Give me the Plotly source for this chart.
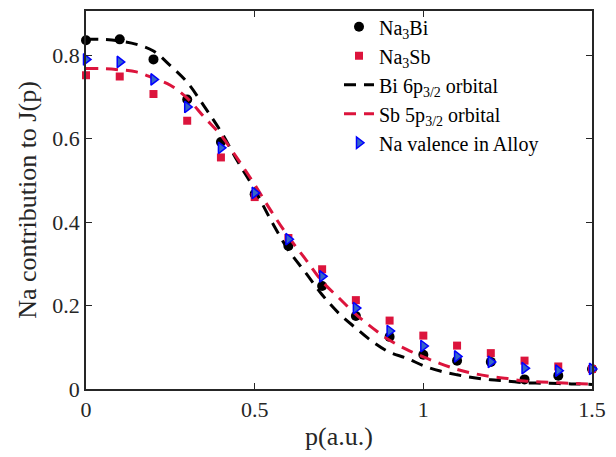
import plotly.graph_objects as go

p_pts = [0.0, 0.1, 0.2, 0.3, 0.4, 0.5, 0.6, 0.7, 0.8, 0.9, 1.0, 1.1, 1.2, 1.3, 1.4, 1.5]
na3bi = [0.836, 0.838, 0.790, 0.694, 0.592, 0.467, 0.343, 0.247, 0.175, 0.125, 0.082, 0.068, 0.065, 0.023, 0.032, 0.048]
na3sb = [0.752, 0.749, 0.707, 0.643, 0.555, 0.460, 0.362, 0.287, 0.213, 0.164, 0.128, 0.104, 0.086, 0.068, 0.054, 0.048]
na_alloy = [0.790, 0.784, 0.742, 0.676, 0.578, 0.470, 0.359, 0.270, 0.194, 0.139, 0.103, 0.078, 0.065, 0.050, 0.044, 0.048]

p_curve = [0.0, 0.05, 0.1, 0.15, 0.2, 0.25, 0.3, 0.35, 0.4, 0.45, 0.5, 0.55, 0.6, 0.65, 0.7, 0.75,
           0.8, 0.85, 0.9, 0.95, 1.0, 1.05, 1.1, 1.15, 1.2, 1.25, 1.3, 1.35, 1.4, 1.45, 1.5]
bi_6p = [0.838, 0.838, 0.834, 0.826, 0.810, 0.775, 0.735, 0.678, 0.617, 0.545, 0.478, 0.402, 0.333,
         0.280, 0.226, 0.181, 0.146, 0.113, 0.088, 0.074, 0.056, 0.043, 0.034, 0.027, 0.022, 0.019,
         0.015, 0.014, 0.013, 0.012, 0.011]
sb_5p = [0.768, 0.768, 0.765, 0.760, 0.745, 0.728, 0.697, 0.652, 0.608, 0.551, 0.490, 0.425, 0.365,
         0.312, 0.258, 0.218, 0.179, 0.146, 0.117, 0.095, 0.077, 0.061, 0.047, 0.037, 0.030, 0.025,
         0.019, 0.017, 0.015, 0.013, 0.012]

FONT = "Liberation Serif"
AX = "#262626"
RED = "#DC143C"

fig = go.Figure()
fig.add_trace(go.Scatter(x=p_pts, y=na3bi, mode="markers", name="Na<sub>3</sub>Bi",
                         marker=dict(symbol="circle", size=10, color="black"), cliponaxis=False))
fig.add_trace(go.Scatter(x=p_pts, y=na3sb, mode="markers", name="Na<sub>3</sub>Sb",
                         marker=dict(symbol="square", size=8, color=RED), cliponaxis=False))
fig.add_trace(go.Scatter(x=p_curve, y=bi_6p, mode="lines", name="Bi 6p<sub>3/2</sub> orbital",
                         line=dict(color="black", width=3, dash="12px,8px", shape="spline")))
fig.add_trace(go.Scatter(x=p_curve, y=sb_5p, mode="lines", name="Sb 5p<sub>3/2</sub> orbital",
                         line=dict(color=RED, width=3, dash="12px,8px", shape="spline")))
fig.add_trace(go.Scatter(x=p_pts, y=na_alloy, mode="markers", name="Na valence in Alloy",
                         marker=dict(symbol="triangle-right", size=10, color="#3566c8",
                                     line=dict(color="blue", width=1.5)), cliponaxis=False))

axis_common = dict(showline=True, linecolor=AX, linewidth=1.5, mirror="ticks", ticks="inside",
                   ticklen=6, tickcolor=AX, tickwidth=1.2, showgrid=False, zeroline=False,
                   tickfont=dict(family=FONT, size=22, color=AX))

fig.update_xaxes(range=[0, 1.5], tickvals=[0, 0.5, 1, 1.5], ticktext=["0", "0.5", "1", "1.5"],
                 title=dict(text="p(a.u.)", font=dict(family=FONT, size=26, color=AX), standoff=6),
                 **axis_common)
fig.update_yaxes(range=[0, 0.906], tickvals=[0, 0.2, 0.4, 0.6, 0.8], ticktext=["0", "0.2", "0.4", "0.6", "0.8"],
                 title=dict(text="Na contribution to J(p)", font=dict(family=FONT, size=26, color=AX), standoff=8),
                 **axis_common)

fig.update_layout(
    width=616, height=457,
    margin=dict(l=86, r=24, t=7, b=68),
    paper_bgcolor="white", plot_bgcolor="white",
    font=dict(family=FONT),
    showlegend=True,
    legend=dict(x=0.5, y=1.01, xanchor="left", yanchor="top", bgcolor="rgba(0,0,0,0)",
                font=dict(family=FONT, size=20, color="black"), tracegroupgap=0, itemwidth=30),
)

fig.write_html("out.html")
